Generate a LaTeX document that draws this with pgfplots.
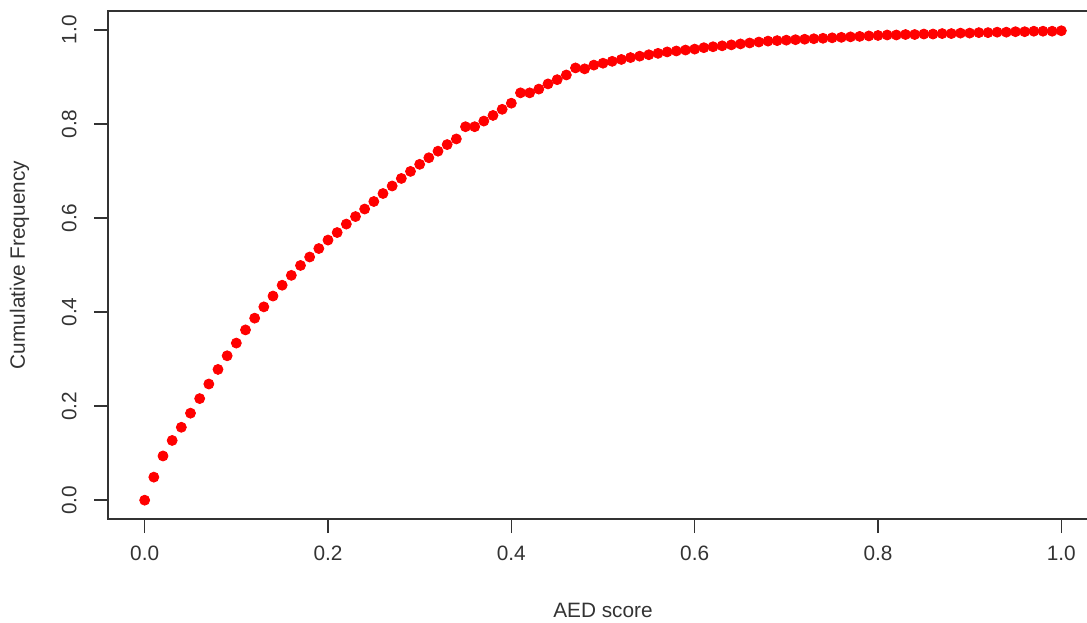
\documentclass[border=0pt]{standalone}
\usepackage{fontspec}
\setmainfont{Liberation Sans}
\usepackage{pgfplots}
\usepackage{pgfplotstable}
\pgfplotsset{compat=1.18}

\definecolor{axgray}{HTML}{333333}

% cumulative frequency of the AED score at steps of 0.01
\pgfplotstableread{
x     y
0.00  0.000
0.01  0.049
0.02  0.094
0.03  0.127
0.04  0.155
0.05  0.185
0.06  0.216
0.07  0.247
0.08  0.278
0.09  0.307
0.10  0.334
0.11  0.362
0.12  0.387
0.13  0.411
0.14  0.434
0.15  0.457
0.16  0.478
0.17  0.499
0.18  0.517
0.19  0.535
0.20  0.553
0.21  0.569
0.22  0.587
0.23  0.603
0.24  0.619
0.25  0.635
0.26  0.652
0.27  0.668
0.28  0.684
0.29  0.699
0.30  0.714
0.31  0.728
0.32  0.742
0.33  0.756
0.34  0.768
0.35  0.794
0.36  0.794
0.37  0.806
0.38  0.818
0.39  0.831
0.40  0.844
0.41  0.866
0.42  0.866
0.43  0.874
0.44  0.885
0.45  0.894
0.46  0.904
0.47  0.919
0.48  0.917
0.49  0.925
0.50  0.929
0.51  0.933
0.52  0.937
0.53  0.941
0.54  0.944
0.55  0.947
0.56  0.950
0.57  0.953
0.58  0.955
0.59  0.957
0.60  0.959
0.61  0.962
0.62  0.964
0.63  0.966
0.64  0.968
0.65  0.970
0.66  0.972
0.67  0.974
0.68  0.976
0.69  0.977
0.70  0.978
0.71  0.979
0.72  0.980
0.73  0.981
0.74  0.982
0.75  0.983
0.76  0.984
0.77  0.985
0.78  0.986
0.79  0.987
0.80  0.988
0.81  0.989
0.82  0.989
0.83  0.990
0.84  0.990
0.85  0.991
0.86  0.991
0.87  0.992
0.88  0.992
0.89  0.993
0.90  0.993
0.91  0.994
0.92  0.994
0.93  0.995
0.94  0.995
0.95  0.996
0.96  0.996
0.97  0.997
0.98  0.997
0.99  0.997
1.00  0.998
}\aedcdf

\begin{document}
\fontsize{10.4}{12}\selectfont
\begin{tikzpicture}
% page = 543.5pt x 311pt; the box runs past the right edge, as in the reference
\path[use as bounding box] (-54pt,-51.5pt) rectangle (489.5pt,259.5pt);
\begin{axis}[
  at={(0,0)}, anchor=south west,
  scale only axis, width=495pt, height=254pt,
  xmin=-0.04, xmax=1.04, ymin=-0.04, ymax=1.04,
  axis line style={axgray, line width=0.75pt},
  tick style={axgray, line width=0.75pt},
  tick align=outside, major tick length=7pt,
  xtick={0,0.2,0.4,0.6,0.8,1}, ytick={0,0.2,0.4,0.6,0.8,1},
  xtick pos=bottom, ytick pos=left,
  /pgf/number format/assume math mode=true,
  /pgf/number format/.cd, fixed, fixed zerofill, precision=1,
  /pgfplots/.cd,
  xticklabel shift=3pt, yticklabel shift=5pt,
  xticklabel style={font=\fontsize{10.4}{12}\selectfont, text=black!80},
  yticklabel style={font=\fontsize{10.4}{12}\selectfont, text=black!80, rotate=90, anchor=south},
  clip=false,
]
\addplot[only marks, mark=*, mark size=2.5pt, color=red, mark options={draw=red, fill=red}]
  table[x=x, y=y] {\aedcdf};
\end{axis}
\node[anchor=base, text=black!80] at (247.5pt,-49pt) {AED score};
\node[anchor=base, rotate=90, text=black!80] at (-41.5pt,127pt) {Cumulative Frequency};
\end{tikzpicture}
\end{document}
